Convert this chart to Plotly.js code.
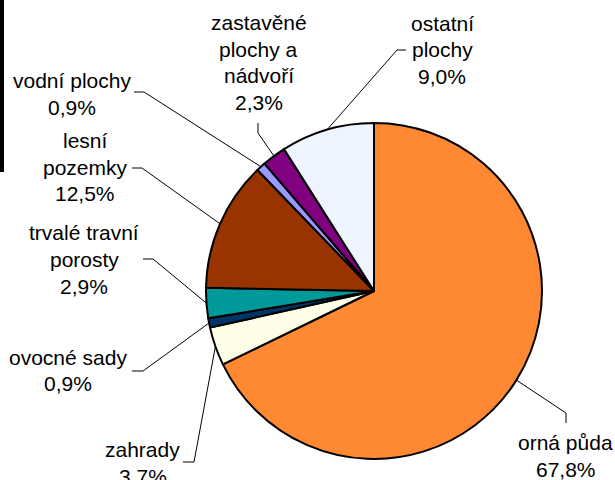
<!DOCTYPE html>
<html>
<head>
<meta charset="utf-8">
<script src="https://cdn.plot.ly/plotly-3.0.1.min.js"></script>
<style>html,body{margin:0;padding:0;background:#fff;}#chart{width:615px;height:480px;}</style>
</head>
<body>
<div id="chart"></div>
<script>
// ---- data ----
const categories = ["orná půda", "zahrady", "ovocné sady", "trvalé travní<br>porosty", "lesní<br>pozemky", "vodní plochy", "zastavěné<br>plochy a<br>nádvoří", "ostatní<br>plochy"];
const values = [67.8, 3.7, 0.9, 2.9, 12.5, 0.9, 2.3, 9.0];
const colors = ["#FF8833", "#FFFFE8", "#003366", "#009999", "#993300", "#9999FF", "#800080", "#EEF5FF"];

// ---- layout (pixels) ----
const W = 615, H = 480;
const CX = 374, CY = 291, R = 168;
const LINE_SP = 26.5;
// label block centres
const labelPos = [[565.5, 456], [142.5, 463], [68, 370.5], [84, 259.5], [85, 167], [72, 94], [258.5, 62.5], [442, 50]];
// leader line points from label side, ending at pie edge (added from data)
const leaderPts = [
  [[566, 423], [566, 413]],
  [[183, 462], [194, 462]],
  [[132, 371], [143, 371]],
  [[143, 259], [153, 259]],
  [[132, 168], [142, 168]],
  [[134, 92], [144, 92]],
  [[258, 123], [258, 133]],
  [[406, 50], [397, 50]]
];

const px = x => x / W;
const py = y => 1 - y / H;
const fmt = v => v.toFixed(1).replace('.', ',') + '%';

const total = values.reduce((a, b) => a + b, 0);
let cum = 0;
const annotations = [];
const shapes = [];
values.forEach((v, i) => {
  const mid = (cum + v / 2) / total;
  cum += v;
  const ang = mid * 2 * Math.PI;
  const ex = CX + R * Math.sin(ang);
  const ey = CY - R * Math.cos(ang);
  const lines = categories[i].split('<br>').concat([fmt(v)]);
  const [lx, ly] = labelPos[i];
  lines.forEach((t, k) => {
    annotations.push({
      xref: 'paper', yref: 'paper',
      x: px(lx), y: py(ly + (k - (lines.length - 1) / 2) * LINE_SP),
      xanchor: 'center', yanchor: 'middle',
      text: t, showarrow: false,
      font: {family: 'Liberation Sans, Arial, sans-serif', size: 21, color: '#000'}
    });
  });
  const pts = leaderPts[i].concat([[ex, ey]]);
  const path = pts.map((p, k) => (k ? 'L' : 'M') + px(p[0]).toFixed(5) + ',' + py(p[1]).toFixed(5)).join(' ');
  shapes.push({type: 'path', xref: 'paper', yref: 'paper', path: path, line: {color: '#000', width: 1}});
});

// black bar at left edge
shapes.push({type: 'rect', xref: 'paper', yref: 'paper', x0: 0, x1: px(4), y0: py(172), y1: 1, fillcolor: '#000', line: {width: 0}});

const trace = {
  type: 'pie',
  labels: categories,
  values: values,
  sort: false,
  direction: 'clockwise',
  rotation: 0,
  textinfo: 'none',
  hoverinfo: 'none',
  showlegend: false,
  marker: {colors: colors, line: {color: '#000', width: 2}},
  domain: {x: [px(CX - R), px(CX + R)], y: [py(CY + R), py(CY - R)]}
};

const layout = {
  width: W, height: H,
  margin: {l: 0, r: 0, t: 0, b: 0},
  paper_bgcolor: '#fff',
  plot_bgcolor: '#fff',
  showlegend: false,
  annotations: annotations,
  shapes: shapes
};

Plotly.newPlot('chart', [trace], layout, {displayModeBar: false, staticPlot: true});
</script>
</body>
</html>
